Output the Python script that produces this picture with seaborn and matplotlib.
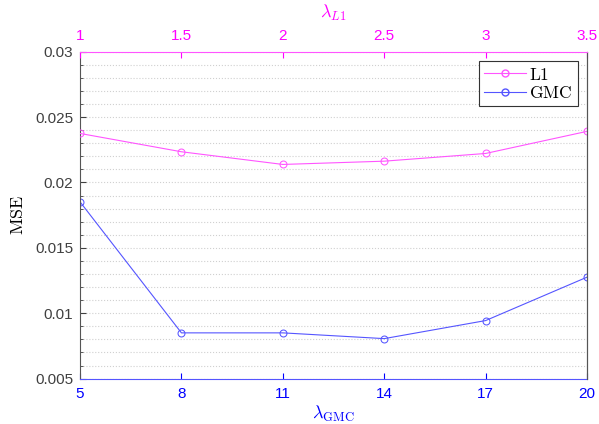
import seaborn as sns
import matplotlib.pyplot as plt
from matplotlib.ticker import MultipleLocator
from matplotlib.lines import Line2D

plt.rcParams['mathtext.fontset'] = 'cm'
plt.rcParams['font.family'] = ['Liberation Sans', 'DejaVu Sans']

# data
lam_gmc = [5, 8, 11, 14, 17, 20]
mse_gmc = [0.01852, 0.00850, 0.00850, 0.00806, 0.00944, 0.01276]
lam_l1 = [1, 1.5, 2, 2.5, 3, 3.5]
mse_l1 = [0.02375, 0.02235, 0.02138, 0.02163, 0.02222, 0.02391]
y_ticks = [0.005, 0.01, 0.015, 0.02, 0.025, 0.03]
y_labels = ['0.005', '0.01', '0.015', '0.02', '0.025', '0.03']

magenta = '#ff00ff'
blue = '#0000ff'
line_mag = '#ff55ff'
line_blue = '#5555ff'

fig, ax = plt.subplots(figsize=(5.99, 4.24), dpi=100)
fig.subplots_adjust(left=0.1336, right=0.98, bottom=0.107, top=0.878)

# bottom axis: GMC
sns.lineplot(x=lam_gmc, y=mse_gmc, ax=ax, color=line_blue, marker='o', mfc='none',
             mec=line_blue, ms=5, lw=0.8, legend=False)
ax.set_xlim(5, 20)
ax.set_xticks(lam_gmc)
ax.set_xticklabels([str(v) for v in lam_gmc])
ax.tick_params(axis='x', colors=blue, labelsize=11, direction='in', length=4, pad=6)
ax.set_xlabel(r'$\lambda_{\mathrm{GMC}}$', color=blue, fontsize=13, labelpad=2)
ax.set_ylabel(r'$\mathrm{MSE}$', fontsize=13, labelpad=6)
ax.spines['bottom'].set_color(line_blue)
ax.spines['left'].set_color('#555555')
ax.spines['right'].set_color('#555555')
ax.spines['top'].set_visible(False)

# top axis: L1
ax2 = ax.twiny()
sns.lineplot(x=lam_l1, y=mse_l1, ax=ax2, color=line_mag, marker='o', mfc='none',
             mec=line_mag, ms=5, lw=0.8, legend=False)
ax2.set_xlim(1, 3.5)
ax2.set_xticks(lam_l1)
ax2.set_xticklabels(['1', '1.5', '2', '2.5', '3', '3.5'])
ax2.tick_params(axis='x', colors=magenta, labelsize=11, direction='in', length=4, pad=6)
ax2.set_xlabel(r'$\lambda_{L1}$', color=magenta, fontsize=13, labelpad=8)
ax2.spines['top'].set_color(line_mag)
ax2.spines['bottom'].set_visible(False)
ax2.spines['left'].set_visible(False)
ax2.spines['right'].set_color('#555555')

# y axis settings after both plots so autoscale does not move them
ax.set_ylim(0.005, 0.03)
ax.set_yticks(y_ticks)
ax.set_yticklabels(y_labels)
ax.yaxis.set_minor_locator(MultipleLocator(0.001))
ax.tick_params(axis='y', colors='#404040', labelsize=11, direction='in', length=4, pad=5)
ax.tick_params(axis='y', which='minor', direction='in', length=2, colors='#404040')
ax.grid(axis='y', which='both', ls=':', color='#d0d0d0', lw=0.8)
ax.set_axisbelow(True)

handles = [
    Line2D([], [], color=line_mag, marker='o', mfc='none', mec=line_mag, ms=5, lw=0.8),
    Line2D([], [], color=line_blue, marker='o', mfc='none', mec=line_blue, ms=5, lw=0.8),
]
leg = ax2.legend(handles, [r'$\mathrm{L1}$', r'$\mathrm{GMC}$'], loc='upper right',
                 bbox_to_anchor=(0.985, 0.976), fontsize=12.5, fancybox=False,
                 framealpha=1, edgecolor='#333333', handlelength=2.4,
                 borderpad=0.3, labelspacing=0.15, handletextpad=0.2,
                 borderaxespad=0.1)
leg.get_frame().set_linewidth(0.8)

fig.savefig('out.png', dpi=100)
